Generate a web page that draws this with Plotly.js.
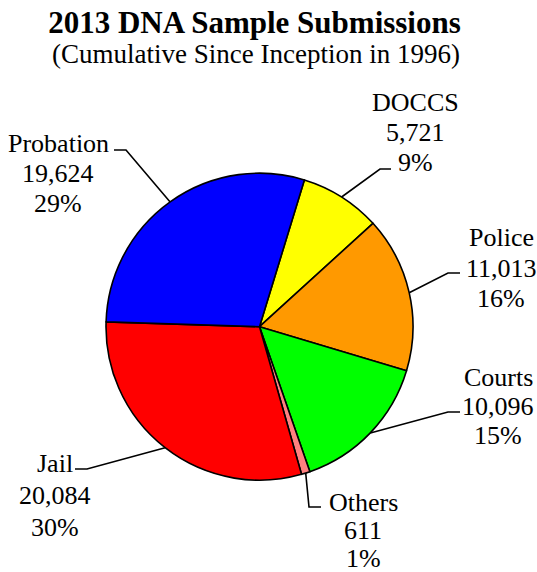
<!DOCTYPE html>
<html>
<head>
<meta charset="utf-8">
<script src="https://cdn.plot.ly/plotly-3.0.1.min.js"></script>
<style>html,body{margin:0;padding:0;background:#fff;}#chart{width:537px;height:572px;}</style>
</head>
<body>
<div id="chart"></div>
<script>
// ---- data ----
const categories = ["DOCCS", "Police", "Courts", "Others", "Jail", "Probation"];
const submissions = [5721, 11013, 10096, 611, 20084, 19624];
const percentLabels = ["9%", "16%", "15%", "1%", "30%", "29%"];
const sliceColors = ["#FFFF00", "#FF9900", "#00FF00", "#FF8080", "#FF0000", "#0000FF"];

// ---- layout constants ----
const W = 537, H = 572;
const CX = 259.5, CY = 326.7, R = 153.5;   // pie centre / radius in px
const ROT = 17;                              // start angle, degrees clockwise from 12 o'clock
const FONT = "'Liberation Serif', 'Times New Roman', serif";

// label block placement (px): centre x, middle-line y, line gap, leader elbow and end
const labelStyle = [
  {tx: 415, ty: 132, gap: 30, ex: 380, ey: 169, hx: 391},
  {tx: 501, ty: 268, gap: 30, ex: 448, ey: 273, hx: 460},
  {tx: 498, ty: 406, gap: 29, ex: 448, ey: 412, hx: 460},
  {tx: 363, ty: 530, gap: 28, ex: 309, ey: 507, hx: 321},
  {tx: 55,  ty: 495, gap: 32, ex: 87,  ey: 469, hx: 75},
  {tx: 58,  ty: 173, gap: 30, ex: 126, ey: 150, hx: 114}
];

const px2x = p => p / W;
const px2y = p => 1 - p / H;

const total = submissions.reduce((a, b) => a + b, 0);
const fmt = n => n.toLocaleString("en-US");

const annotations = [];
const shapes = [];
let cum = 0;
submissions.forEach((v, i) => {
  const mid = (ROT + 360 * (cum + v / 2) / total) * Math.PI / 180;
  cum += v;
  const sx = CX + R * Math.sin(mid);
  const sy = CY - R * Math.cos(mid);
  const st = labelStyle[i];
  shapes.push({
    type: "path", xref: "paper", yref: "paper",
    path: `M ${px2x(sx)} ${px2y(sy)} L ${px2x(st.ex)} ${px2y(st.ey)} L ${px2x(st.hx)} ${px2y(st.ey)}`,
    line: {color: "#000", width: 1.6}
  });
  [categories[i], fmt(v), percentLabels[i]].forEach((t, k) => {
    annotations.push({
      xref: "paper", yref: "paper", x: px2x(st.tx), y: px2y(st.ty + (k - 1) * st.gap),
      xanchor: "center", yanchor: "middle", showarrow: false, align: "center",
      text: t,
      font: {family: FONT, size: 26, color: "#000"}
    });
  });
});

annotations.push({
  xref: "paper", yref: "paper", x: px2x(256), y: px2y(53.5),
  xanchor: "center", yanchor: "middle", showarrow: false,
  text: "(Cumulative Since Inception in 1996)",
  font: {family: FONT, size: 27, color: "#000"}
});

const trace = {
  type: "pie",
  labels: categories,
  values: submissions,
  sort: false,
  direction: "clockwise",
  rotation: ROT,
  textinfo: "none",
  hoverinfo: "label+value+percent",
  marker: {colors: sliceColors, line: {color: "#000", width: 1.6}},
  domain: {
    x: [(CX - R) / W, (CX + R) / W],
    y: [1 - (CY + R) / H, 1 - (CY - R) / H]
  },
  showlegend: false
};

const layout = {
  width: W, height: H,
  margin: {l: 0, r: 0, t: 0, b: 0},
  paper_bgcolor: "#fff",
  font: {family: FONT, color: "#000"},
  showlegend: false,
  title: {
    text: "<b>2013 DNA Sample Submissions</b>",
    font: {family: FONT, size: 31, color: "#000"},
    xref: "paper", yref: "paper",
    x: px2x(254.5), xanchor: "center",
    y: px2y(22), yanchor: "middle"
  },
  annotations: annotations,
  shapes: shapes
};

Plotly.newPlot("chart", [trace], layout, {displayModeBar: false, staticPlot: true});
</script>
</body>
</html>
